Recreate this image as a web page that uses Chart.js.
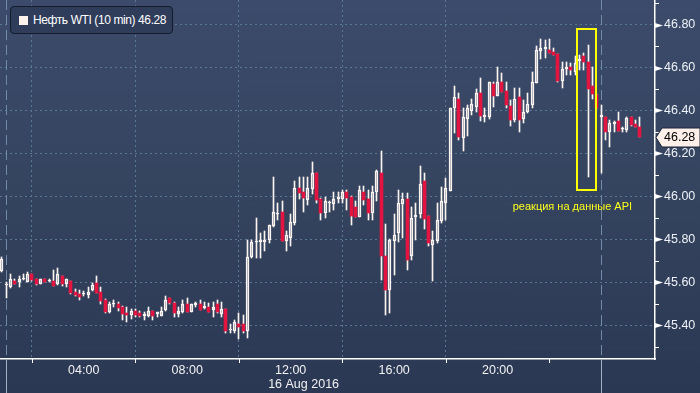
<!DOCTYPE html>
<html>
<head>
<meta charset="utf-8">
<script src="https://cdn.jsdelivr.net/npm/chart.js@4.4.1/dist/chart.umd.min.js"></script>
<style>
  html, body { margin: 0; padding: 0; background: #2c3a57; }
  #wrap {
    position: relative; width: 700px; height: 393px; overflow: hidden;
    background: linear-gradient(to bottom, #3c4b6b 0%, #35445f 45%, #2b3854 100%);
  }
  #chart { position: absolute; left: 0; top: 0; }
  .legend {
    position: absolute; left: 10px; top: 6px; width: 163px; height: 28px;
    box-sizing: border-box; border: 1px solid #131b2d; border-radius: 4px;
    background: #2f3d5b; color: #fff;
    font: 12px "Liberation Sans", Arial, sans-serif; letter-spacing: -0.4px;
    line-height: 26px; white-space: nowrap;
  }
  .legend .box {
    display: inline-block; width: 9px; height: 9px; background: #fcf2ee;
    margin: 0 5px 0 8px; vertical-align: -1px;
  }
</style>
</head>
<body>
<div id="wrap">
  <canvas id="chart" width="700" height="393"></canvas>
  <div class="legend"><span class="box"></span><span id="legendText"></span></div>
</div>
<script>
// 10-minute candles, WTI, 16 Aug 2016
const firstCandle = '00:50';
const candleMinutes = 10;

const opens = [
  45.655, 45.588, 45.577, 45.607, 45.604, 45.615, 45.604, 45.640, 45.615, 45.594,
  45.615, 45.607, 45.605, 45.594, 45.630, 45.594, 45.605, 45.556, 45.548, 45.547,
  45.542, 45.565, 45.598, 45.556, 45.519, 45.463, 45.499, 45.502, 45.486, 45.460,
  45.447, 45.466, 45.456, 45.446, 45.446, 45.466, 45.455, 45.446, 45.471, 45.528,
  45.503, 45.455, 45.464, 45.500, 45.464, 45.497, 45.502, 45.483, 45.487, 45.472,
  45.500, 45.453, 45.477, 45.379, 45.374, 45.407, 45.407, 45.374, 45.717, 45.787,
  45.787, 45.787, 45.796, 45.864, 45.917, 45.928, 45.795, 45.805, 45.878, 46.040,
  46.019, 45.985, 46.036, 46.109, 45.988, 45.923, 45.970, 45.967, 45.987, 45.987,
  46.021, 45.998, 45.951, 45.906, 46.021, 45.988, 45.923, 46.019, 46.108, 45.725,
  45.565, 45.795, 45.829, 45.967, 45.987, 45.723, 45.906, 45.917, 46.071, 45.909,
  45.776, 45.795, 45.888, 45.968, 46.027, 46.410, 46.454, 46.271, 46.359, 46.399,
  46.418, 46.480, 46.368, 46.368, 46.522, 46.469, 46.531, 46.491, 46.421, 46.356,
  46.464, 46.359, 46.392, 46.426, 46.528, 46.678, 46.688, 46.681, 46.674, 46.663,
  46.539, 46.591, 46.604, 46.581, 46.630, 46.653, 46.627, 46.514, 46.472, 46.368,
  46.368, 46.298, 46.337, 46.351, 46.312, 46.309, 46.371, 46.336, 46.325
];
const highs = [
  45.720, 45.601, 45.640, 45.616, 45.630, 45.640, 45.647, 45.640, 45.618, 45.617,
  45.615, 45.618, 45.658, 45.666, 45.630, 45.617, 45.608, 45.570, 45.565, 45.559,
  45.578, 45.599, 45.630, 45.581, 45.522, 45.511, 45.519, 45.509, 45.489, 45.484,
  45.475, 45.475, 45.467, 45.463, 45.484, 45.467, 45.461, 45.484, 45.537, 45.530,
  45.508, 45.484, 45.519, 45.526, 45.502, 45.508, 45.519, 45.509, 45.503, 45.509,
  45.519, 45.511, 45.477, 45.407, 45.425, 45.460, 45.449, 45.798, 45.798, 45.898,
  45.829, 45.840, 45.868, 46.092, 45.971, 45.979, 45.840, 45.919, 46.072, 46.089,
  46.089, 46.089, 46.159, 46.110, 45.995, 45.998, 45.979, 46.021, 46.021, 46.032,
  46.032, 46.000, 45.979, 46.050, 46.050, 46.030, 46.050, 46.125, 46.212, 45.870,
  45.800, 45.919, 46.030, 46.015, 46.015, 45.953, 45.968, 46.142, 46.111, 45.910,
  45.841, 45.971, 46.043, 46.085, 46.413, 46.514, 46.480, 46.410, 46.426, 46.454,
  46.498, 46.550, 46.410, 46.533, 46.531, 46.601, 46.573, 46.531, 46.449, 46.503,
  46.503, 46.449, 46.480, 46.578, 46.700, 46.733, 46.728, 46.733, 46.689, 46.664,
  46.627, 46.627, 46.619, 46.653, 46.660, 46.666, 46.705, 46.601, 46.478, 46.425,
  46.370, 46.356, 46.351, 46.394, 46.325, 46.371, 46.372, 46.356, 46.371
];
const lows = [
  45.650, 45.529, 45.576, 45.594, 45.580, 45.613, 45.602, 45.609, 45.590, 45.593,
  45.602, 45.604, 45.585, 45.590, 45.584, 45.580, 45.545, 45.537, 45.519, 45.539,
  45.529, 45.562, 45.550, 45.500, 45.458, 45.457, 45.488, 45.467, 45.426, 45.416,
  45.430, 45.441, 45.438, 45.425, 45.441, 45.427, 45.441, 45.444, 45.466, 45.500,
  45.441, 45.441, 45.456, 45.463, 45.463, 45.487, 45.472, 45.475, 45.463, 45.441,
  45.456, 45.441, 45.366, 45.366, 45.366, 45.339, 45.366, 45.340, 45.716, 45.712,
  45.712, 45.748, 45.782, 45.860, 45.891, 45.793, 45.748, 45.771, 45.867, 45.988,
  45.930, 45.960, 46.013, 45.971, 45.891, 45.900, 45.928, 45.937, 45.968, 45.968,
  45.937, 45.867, 45.905, 45.905, 45.960, 45.891, 45.891, 45.979, 45.610, 45.450,
  45.457, 45.635, 45.790, 45.805, 45.658, 45.705, 45.798, 45.898, 45.849, 45.771,
  45.609, 45.782, 45.878, 45.891, 46.026, 46.294, 46.263, 46.212, 46.281, 46.379,
  46.392, 46.351, 46.345, 46.360, 46.418, 46.468, 46.487, 46.410, 46.330, 46.348,
  46.302, 46.342, 46.387, 46.410, 46.526, 46.638, 46.646, 46.668, 46.659, 46.534,
  46.503, 46.565, 46.565, 46.565, 46.590, 46.588, 46.092, 46.453, 46.405, 46.111,
  46.263, 46.232, 46.302, 46.306, 46.298, 46.302, 46.328, 46.322, 46.277
];
const closes = [
  45.709, 45.593, 45.615, 45.594, 45.615, 45.618, 45.640, 45.612, 45.594, 45.615,
  45.602, 45.609, 45.585, 45.640, 45.594, 45.616, 45.553, 45.540, 45.533, 45.551,
  45.556, 45.590, 45.553, 45.516, 45.463, 45.500, 45.502, 45.483, 45.453, 45.447,
  45.466, 45.447, 45.446, 45.449, 45.466, 45.446, 45.458, 45.466, 45.519, 45.503,
  45.456, 45.467, 45.500, 45.464, 45.500, 45.500, 45.472, 45.486, 45.464, 45.484,
  45.463, 45.477, 45.374, 45.382, 45.418, 45.393, 45.374, 45.717, 45.788, 45.790,
  45.798, 45.798, 45.866, 45.928, 45.920, 45.795, 45.821, 45.881, 46.040, 46.018,
  45.995, 46.040, 46.109, 45.984, 45.923, 45.979, 45.973, 45.987, 45.998, 46.021,
  45.995, 45.911, 45.906, 46.030, 45.984, 45.923, 46.021, 46.117, 45.724, 45.565,
  45.798, 45.819, 45.968, 45.987, 45.705, 45.898, 45.909, 46.058, 45.895, 45.784,
  45.798, 45.891, 45.979, 46.038, 46.410, 46.464, 46.278, 46.368, 46.410, 46.429,
  46.480, 46.376, 46.379, 46.531, 46.468, 46.531, 46.488, 46.426, 46.356, 46.454,
  46.356, 46.392, 46.430, 46.531, 46.681, 46.689, 46.691, 46.669, 46.660, 46.539,
  46.593, 46.604, 46.588, 46.622, 46.640, 46.627, 46.498, 46.477, 46.410, 46.379,
  46.302, 46.343, 46.348, 46.306, 46.315, 46.364, 46.331, 46.322, 46.278
];

// axes
const priceMin = 45.244, priceMax = 46.914;
const hourMin = 0.764, hourMax = 26.083;
const priceLabelStep = 0.2, priceTickStep = 0.1;
const hourLabels = [4, 8, 12, 16, 20];
const hourTicks = [2, 6, 10, 14, 18, 22];
const sessionHours = [1, 24];
const dateLabel = '16 Aug 2016', dateAtHour = 12.5;

const seriesName = 'Нефть WTI (10 min)';
const noteText = 'реакция на данные API';
const noteAt = { time: '20:35', price: 45.95 };
const noteBox = { from: '23:05', to: '23:50', low: 46.03, high: 46.78 };

const FONT = '"Liberation Sans", Arial, sans-serif';
const RED = '#e3143f', WHITE = '#fbf4f0', GRID = '#587893';

const toHours = s => { const [h, m] = s.split(':').map(Number); return h + m / 60; };
const t0 = toHours(firstCandle);
const times = opens.map((_, i) => t0 + i * candleMinutes / 60);
const last = closes[closes.length - 1];

document.getElementById('legendText').textContent = seriesName + ' ' + last.toFixed(2);

const isUp = i => closes[i] >= opens[i];
const isMulti = (v, step) => Math.abs(v / step - Math.round(v / step)) < 1e-6;

const bodies = times.map((t, i) => ({ x: t, y: [opens[i], closes[i]] }));
const upperWicks = times.map((t, i) => ({ x: t, y: [Math.max(opens[i], closes[i]), highs[i]] }));
const lowerWicks = times.map((t, i) => ({ x: t, y: [lows[i], Math.min(opens[i], closes[i])] }));

// no label padding: the plot runs right up to the canvas edges
const noPad = s => { s.paddingTop = 0; s.paddingBottom = 0; s.paddingLeft = 0; s.paddingRight = 0; };

// snap candle parts to whole pixels so they stay sharp like the original
const crisp = {
  id: 'crisp',
  afterDatasetsUpdate(chart) {
    chart.data.datasets.forEach((ds, i) => {
      chart.getDatasetMeta(i).data.forEach(el => {
        el.x = Math.floor(el.x) + 0.5;
        el.y = Math.round(el.y);
        el.base = Math.round(el.base);
      });
    });
  }
};

const decor = {
  id: 'decor',
  beforeDatasetsDraw(chart) {
    const { ctx, chartArea: a, scales: { x } } = chart;
    ctx.save();
    ctx.strokeStyle = '#6f8ba8';
    ctx.lineWidth = 1;
    ctx.setLineDash([10, 5]);
    sessionHours.forEach(h => {
      const px = Math.round(x.getPixelForValue(h)) + 0.5;
      ctx.beginPath(); ctx.moveTo(px, a.top); ctx.lineTo(px, a.bottom); ctx.stroke();
    });
    ctx.restore();
  },
  afterDraw(chart) {
    const { ctx, chartArea: a, scales: { x, y } } = chart;
    ctx.save();
    // session separators below the time axis
    ctx.strokeStyle = '#a3b1c6';
    ctx.lineWidth = 1;
    sessionHours.forEach(h => {
      const px = Math.round(x.getPixelForValue(h)) + 0.5;
      ctx.beginPath(); ctx.moveTo(px, a.bottom); ctx.lineTo(px, chart.height); ctx.stroke();
    });
    // small time ticks
    ctx.strokeStyle = '#ffffff';
    hourTicks.forEach(h => {
      const px = Math.round(x.getPixelForValue(h)) + 0.5;
      ctx.beginPath(); ctx.moveTo(px, a.bottom); ctx.lineTo(px, a.bottom + 4); ctx.stroke();
    });
    // price ticks: wedges on labels, short marks between
    ctx.fillStyle = '#ffffff';
    for (let v = Math.ceil(priceMin / priceTickStep) * priceTickStep; v <= priceMax; v += priceTickStep) {
      const py = Math.round(y.getPixelForValue(v)) + 0.5;
      if (isMulti(v, priceLabelStep)) {
        ctx.beginPath();
        ctx.moveTo(a.right, py - 2.5); ctx.lineTo(a.right + 8, py); ctx.lineTo(a.right, py + 2.5);
        ctx.closePath(); ctx.fill();
      } else {
        ctx.beginPath(); ctx.moveTo(a.right, py); ctx.lineTo(a.right + 4, py); ctx.stroke();
      }
    }
    // date under the time labels
    ctx.fillStyle = '#f2f2f2';
    ctx.font = '12.5px ' + FONT;
    ctx.textAlign = 'center';
    ctx.textBaseline = 'middle';
    ctx.fillText(dateLabel, x.getPixelForValue(dateAtHour), 385);
    // API reaction box and note
    const bx1 = x.getPixelForValue(toHours(noteBox.from));
    const bx2 = x.getPixelForValue(toHours(noteBox.to));
    const by1 = y.getPixelForValue(noteBox.high);
    const by2 = y.getPixelForValue(noteBox.low);
    ctx.strokeStyle = '#ffff00';
    ctx.lineWidth = 2;
    ctx.strokeRect(Math.round(bx1), Math.round(by1), Math.round(bx2 - bx1), Math.round(by2 - by1));
    ctx.fillStyle = '#ffff1a';
    ctx.font = '11px ' + FONT;
    ctx.textAlign = 'left';
    ctx.fillText(noteText, x.getPixelForValue(toHours(noteAt.time)), y.getPixelForValue(noteAt.price));
    // last price tag
    const ly = Math.round(y.getPixelForValue(last)) + 0.5;
    ctx.beginPath();
    ctx.moveTo(a.right + 1, ly);
    ctx.lineTo(a.right + 7, ly - 9.5);
    ctx.lineTo(chart.width, ly - 9.5);
    ctx.lineTo(chart.width, ly + 9.5);
    ctx.lineTo(a.right + 7, ly + 9.5);
    ctx.closePath();
    ctx.fillStyle = '#fdf0ea';
    ctx.fill();
    ctx.strokeStyle = '#1c2436';
    ctx.lineWidth = 1;
    ctx.stroke();
    ctx.fillStyle = '#000000';
    ctx.font = '12.5px ' + FONT;
    ctx.fillText(last.toFixed(2), a.right + 9, ly + 0.5);
    ctx.restore();
  }
};

new Chart(document.getElementById('chart'), {
  type: 'bar',
  data: {
    datasets: [
      {
        label: 'body', data: bodies, grouped: false, barThickness: 3, minBarLength: 1.2,
        backgroundColor: c => isUp(c.dataIndex) ? 'rgba(0,0,0,0)' : RED,
        borderColor: WHITE,
        borderWidth: c => isUp(c.dataIndex) ? 1 : 0,
        borderSkipped: false
      },
      { label: 'upper', data: upperWicks, grouped: false, barThickness: 1, backgroundColor: WHITE, borderWidth: 0 },
      { label: 'lower', data: lowerWicks, grouped: false, barThickness: 1, backgroundColor: WHITE, borderWidth: 0 }
    ]
  },
  options: {
    responsive: false,
    animation: false,
    devicePixelRatio: 1,
    layout: { padding: 0 },
    plugins: { legend: { display: false }, tooltip: { enabled: false } },
    scales: {
      x: {
        type: 'linear', min: hourMin, max: hourMax, offset: false,
        afterFit: s => { s.height = 34; noPad(s); },
        grid: {
          drawTicks: false,
          color: c => (c.tick && hourLabels.includes(Math.round(c.tick.value * 1000) / 1000)) ? GRID : 'rgba(0,0,0,0)'
        },
        border: { display: true, color: '#ffffff', width: 1.5, dash: [2, 3] },
        ticks: {
          stepSize: 2, autoSkip: false, maxRotation: 0, padding: 4,
          color: '#f2f2f2', font: { family: FONT, size: 12.5 },
          callback: v => hourLabels.includes(v) ? String(v).padStart(2, '0') + ':00' : null
        }
      },
      y: {
        type: 'linear', position: 'right', min: priceMin, max: priceMax,
        afterFit: s => { s.width = 45; noPad(s); },
        grid: {
          drawTicks: false,
          color: c => (c.tick && isMulti(c.tick.value, priceLabelStep)) ? GRID : 'rgba(0,0,0,0)'
        },
        border: { display: true, color: '#ffffff', width: 1.5, dash: [2, 3] },
        ticks: {
          stepSize: priceTickStep, autoSkip: false, padding: 9,
          color: '#eef2f7', font: { family: FONT, size: 12.5 },
          callback: v => isMulti(v, priceLabelStep) ? v.toFixed(2) : null
        }
      }
    }
  },
  plugins: [crisp, decor]
});
</script>
</body>
</html>
